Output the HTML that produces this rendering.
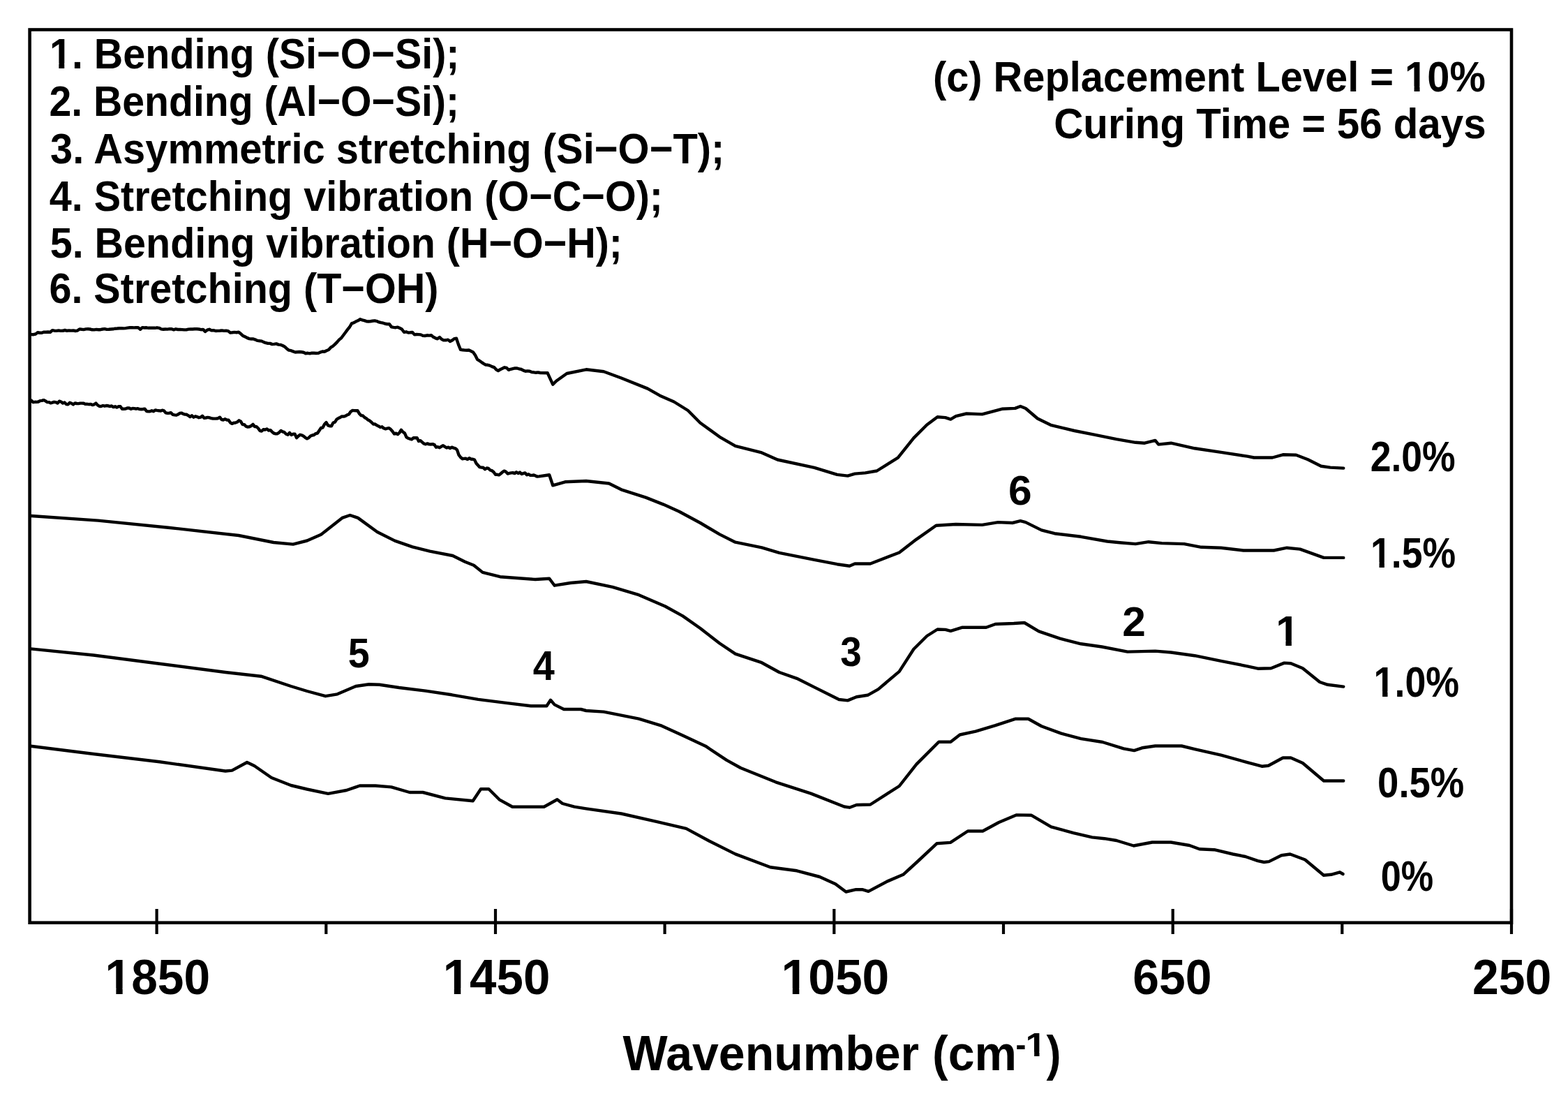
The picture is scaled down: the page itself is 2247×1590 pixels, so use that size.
<!DOCTYPE html><html><head><meta charset="utf-8"><title>FTIR spectra</title><style>html,body{margin:0;padding:0;background:#fff;overflow:hidden;}svg{display:block;}text{font-family:"Liberation Sans",Arial,sans-serif;font-weight:bold;fill:#000;}</style></head><body>
<svg width="2247" height="1590" viewBox="0 0 2247 1590">
<defs>
<clipPath id="c_L1" clipPathUnits="userSpaceOnUse"><rect x="67.94" y="40.20" width="593.55" height="50.60"/><rect x="67.94" y="99.40" width="593.55" height="14.80"/><rect x="67.94" y="90.80" width="3.56" height="8.60"/><rect x="84.35" y="90.80" width="7.89" height="8.60"/><rect x="102.90" y="90.80" width="558.59" height="8.60"/></clipPath>
<clipPath id="c_R1" clipPathUnits="userSpaceOnUse"><rect x="1333.92" y="73.20" width="797.87" height="50.60"/><rect x="1333.92" y="132.40" width="797.87" height="14.80"/><rect x="1333.92" y="123.80" width="679.74" height="8.60"/><rect x="2026.59" y="123.80" width="7.93" height="8.60"/><rect x="2045.25" y="123.80" width="86.54" height="8.60"/></clipPath>
<clipPath id="c_p15" clipPathUnits="userSpaceOnUse"><rect x="1961.02" y="754.90" width="128.12" height="50.57"/><rect x="1961.02" y="814.10" width="128.12" height="14.80"/><rect x="1961.02" y="805.47" width="3.52" height="8.63"/><rect x="1976.53" y="805.47" width="7.35" height="8.63"/><rect x="1993.83" y="805.47" width="95.31" height="8.63"/></clipPath>
<clipPath id="c_p10" clipPathUnits="userSpaceOnUse"><rect x="1965.57" y="939.70" width="128.55" height="50.57"/><rect x="1965.57" y="998.90" width="128.55" height="14.80"/><rect x="1965.57" y="990.27" width="3.53" height="8.63"/><rect x="1981.12" y="990.27" width="7.38" height="8.63"/><rect x="1998.48" y="990.27" width="95.64" height="8.63"/></clipPath>
<clipPath id="c_n1" clipPathUnits="userSpaceOnUse"><rect x="1825.23" y="866.70" width="39.94" height="50.57"/><rect x="1825.23" y="925.90" width="39.94" height="14.80"/><rect x="1825.23" y="917.27" width="3.60" height="8.63"/><rect x="1842.47" y="917.27" width="8.37" height="8.63"/><rect x="1862.17" y="917.27" width="3.00" height="8.63"/></clipPath>
<clipPath id="c_t1850" clipPathUnits="userSpaceOnUse"><rect x="147.60" y="1357.10" width="156.49" height="58.61"/><rect x="147.60" y="1425.30" width="156.49" height="16.80"/><rect x="147.60" y="1415.71" width="3.66" height="9.59"/><rect x="166.39" y="1415.71" width="9.28" height="9.59"/><rect x="188.23" y="1415.71" width="115.86" height="9.59"/></clipPath>
<clipPath id="c_t1450" clipPathUnits="userSpaceOnUse"><rect x="631.68" y="1357.10" width="159.66" height="58.61"/><rect x="631.68" y="1425.30" width="159.66" height="16.80"/><rect x="631.68" y="1415.71" width="3.67" height="9.59"/><rect x="650.80" y="1415.71" width="9.48" height="9.59"/><rect x="673.10" y="1415.71" width="118.24" height="9.59"/></clipPath>
<clipPath id="c_t1050" clipPathUnits="userSpaceOnUse"><rect x="1116.53" y="1357.10" width="160.81" height="58.61"/><rect x="1116.53" y="1425.30" width="160.81" height="16.80"/><rect x="1116.53" y="1415.71" width="3.68" height="9.59"/><rect x="1135.78" y="1415.71" width="9.55" height="9.59"/><rect x="1158.24" y="1415.71" width="119.10" height="9.59"/></clipPath>
<clipPath id="c_t1" clipPathUnits="userSpaceOnUse"><rect x="1466.64" y="1466.90" width="35.81" height="39.92"/><rect x="1466.64" y="1514.10" width="35.81" height="11.80"/><rect x="1466.64" y="1506.82" width="3.52" height="7.28"/><rect x="1482.15" y="1506.82" width="7.35" height="7.28"/><rect x="1499.45" y="1506.82" width="3.00" height="7.28"/></clipPath>
</defs>

<rect width="2247" height="1590" fill="#fff"/>
<g>
<rect x="42.6" y="42.5" width="2123.4" height="1279.2" fill="none" stroke="#000" stroke-width="4.6"/>
<path d="M224.6 1302.1V1337.9M710.0 1302.1V1337.9M1195.3 1302.1V1337.9M1680.7 1302.1V1337.9M2166.0 1302.1V1337.9M467.3 1321.7V1337.9M952.6 1321.7V1337.9M1438.0 1321.7V1337.9M1923.3 1321.7V1337.9" stroke="#000" stroke-width="4.2" fill="none"/>
<path d="M44.5 478.9L45.0 479.0L48.0 479.2L51.0 478.5L54.0 476.3L57.0 476.7L60.0 476.7L63.0 475.6L66.0 475.7L69.0 475.5L72.0 475.9L75.0 473.2L78.0 473.7L81.0 473.9L84.0 473.4L87.0 473.9L90.0 473.8L93.0 473.0L96.0 473.8L99.0 473.4L102.0 473.6L105.0 473.4L108.0 474.0L111.0 473.6L114.0 471.4L117.0 471.8L120.0 472.1L123.0 471.4L126.0 471.3L129.0 471.5L132.0 472.3L135.0 472.4L138.0 471.9L141.0 472.3L144.0 472.2L147.0 471.5L150.0 471.1L153.0 471.9L156.0 471.8L159.0 471.5L162.0 471.3L165.0 470.7L168.0 470.5L171.0 470.2L174.0 470.2L177.0 470.4L180.0 470.1L183.0 469.6L186.0 469.2L189.0 469.2L192.0 469.4L195.0 469.1L198.0 469.2L201.0 471.8L204.0 469.1L207.0 469.5L210.0 469.3L213.0 469.8L216.0 469.8L219.0 469.8L222.0 469.8L225.0 469.3L228.0 469.8L231.0 471.4L234.0 471.8L237.0 471.5L240.0 471.6L243.0 471.1L246.0 471.3L249.0 472.4L252.0 471.3L255.0 472.0L258.0 471.9L261.0 472.1L264.0 472.4L267.0 472.4L270.0 471.6L273.0 471.4L276.0 471.5L279.0 471.3L282.0 471.3L285.0 471.5L288.0 472.2L291.0 471.9L294.0 474.9L297.0 472.7L300.0 471.8L303.0 473.4L306.0 473.1L309.0 474.0L312.0 473.9L315.0 473.7L318.0 473.4L321.0 473.9L324.0 473.8L327.0 474.1L330.0 476.6L333.0 476.3L336.0 475.9L339.0 476.2L342.0 475.8L345.0 478.1L348.0 480.9L351.0 482.3L354.0 483.9L357.0 485.1L360.0 485.5L363.0 485.5L366.0 486.6L369.0 487.9L372.0 488.3L375.0 488.6L378.0 490.1L381.0 491.2L384.0 491.9L387.0 491.9L390.0 493.1L393.0 492.9L396.0 492.4L399.0 493.6L402.0 493.9L405.0 495.0L408.0 496.7L411.0 499.4L414.0 501.7L417.0 502.2L420.0 503.4L423.0 504.5L426.0 504.2L429.0 504.0L432.0 504.3L435.0 504.7L438.0 506.2L441.0 505.8L444.0 506.4L447.0 505.6L450.0 505.7L453.0 506.0L456.0 505.9L459.0 504.6L462.0 503.5L465.0 503.8L468.0 502.2L471.0 501.0L474.0 497.7L477.0 495.8L480.0 493.1L483.0 490.1L486.0 486.6L489.0 484.2L492.0 480.2L495.0 476.2L498.0 472.1L501.0 468.5L504.0 463.4L507.0 462.2L510.0 460.6L513.0 459.3L516.0 457.3L519.0 458.4L522.0 459.2L525.0 460.2L528.0 460.5L531.0 460.2L534.0 459.8L537.0 459.4L540.0 460.1L543.0 461.4L546.0 462.2L549.0 462.7L552.0 463.8L555.0 464.2L558.0 464.2L561.0 468.4L564.0 468.9L567.0 469.2L570.0 468.7L573.0 470.0L576.0 471.7L579.0 475.8L582.0 475.3L585.0 476.5L588.0 476.3L591.0 476.0L594.0 479.4L597.0 479.0L600.0 479.1L603.0 479.4L606.0 480.9L609.0 481.0L612.0 480.3L615.0 480.6L618.0 480.2L621.0 482.8L624.0 484.3L627.0 485.3L630.0 483.1L633.0 486.0L636.0 487.4L639.0 487.3L642.0 486.6L645.0 489.0L648.0 487.5L651.0 485.1L654.0 484.8L657.0 493.6L660.0 500.8L663.0 501.3L666.0 501.6L669.0 501.7L672.0 501.5L675.0 503.0L678.0 504.5L681.0 508.8L684.0 514.8L687.0 516.7L690.0 518.8L693.0 520.8L696.0 522.6L699.0 522.8L702.0 523.6L705.0 525.1L708.0 526.1L711.0 529.3L714.0 531.1L717.0 529.2L720.0 527.8L723.0 526.3L726.0 527.0L729.0 529.9L732.0 528.8L735.0 528.1L738.0 527.4L741.0 527.5L744.0 528.4L747.0 529.0L750.0 530.6L753.0 531.8L756.0 531.4L759.0 531.7L762.0 533.0L765.0 533.3L768.0 533.8L771.0 533.4L774.0 534.0L784.7 534.3L792.2 550.7L797.2 545.7L812.3 535.0L840.0 529.3L865.2 532.2L890.3 541.5L928.0 556.6L945.7 566.7L965.8 575.5L985.9 588.0L1003.5 605.7L1031.2 625.8L1053.8 638.9L1091.6 648.4L1114.2 658.5L1167.0 669.8L1199.7 679.9L1214.8 681.6L1225.0 678.6L1240.0 677.4L1256.6 674.5L1286.8 655.7L1309.4 627.4L1328.3 608.5L1343.4 597.2L1354.7 598.1L1362.3 600.6L1369.8 596.2L1385.0 592.5L1407.5 593.4L1435.8 585.8L1454.7 584.9L1462.3 582.0L1469.8 585.0L1486.8 599.5L1505.7 608.8L1539.6 617.0L1568.0 622.6L1600.0 629.2L1627.2 633.8L1640.4 634.7L1655.5 630.9L1660.2 636.6L1678.1 634.7L1712.1 642.3L1749.8 647.9L1787.5 653.6L1797.0 655.5L1823.4 655.5L1838.5 651.3L1857.4 651.7L1874.3 658.3L1893.2 667.7L1906.4 669.6L1925.3 670.6" stroke="#000" stroke-width="4.4" fill="none" stroke-linejoin="round" stroke-linecap="round"/>
<path d="M44.4 574.5L45.0 573.7L47.5 576.2L50.0 575.8L52.5 575.9L55.0 575.5L57.5 574.1L60.0 573.9L62.5 573.1L65.0 574.2L67.5 576.1L70.0 576.1L72.5 577.3L75.0 576.6L77.5 575.8L80.0 576.2L82.5 577.6L85.0 574.7L87.5 575.5L90.0 577.5L92.5 576.4L95.0 579.0L97.5 579.3L100.0 576.8L102.5 577.7L105.0 579.4L107.5 577.4L110.0 578.0L112.5 578.1L115.0 577.6L117.5 577.6L120.0 577.8L122.5 578.9L125.0 578.8L127.5 579.2L130.0 578.9L132.5 580.1L135.0 579.3L137.5 577.6L140.0 580.4L142.5 582.0L145.0 582.0L147.5 581.0L150.0 581.7L152.5 581.0L155.0 581.3L157.5 582.1L160.0 581.5L162.5 583.1L165.0 582.2L167.5 583.5L170.0 582.3L172.5 582.2L175.0 585.7L177.5 585.7L180.0 585.6L182.5 584.4L185.0 584.5L187.5 585.8L190.0 585.0L192.5 585.1L195.0 585.7L197.5 585.2L200.0 586.1L202.5 586.2L205.0 586.0L207.5 585.7L210.0 589.0L212.5 589.4L215.0 589.3L217.5 588.3L220.0 589.3L222.5 587.4L225.0 587.9L227.5 588.2L230.0 588.6L232.5 587.7L235.0 588.4L237.5 591.4L240.0 591.9L242.5 591.7L245.0 591.2L247.5 593.8L250.0 594.3L252.5 594.7L255.0 593.8L257.5 591.9L260.0 591.6L262.5 592.8L265.0 593.6L267.5 593.8L270.0 595.3L272.5 597.1L275.0 595.2L277.5 597.7L280.0 596.3L282.5 597.1L285.0 598.2L287.5 597.7L290.0 595.8L292.5 598.7L295.0 598.5L297.5 597.9L300.0 598.2L302.5 599.1L305.0 599.5L307.5 599.6L310.0 599.5L312.5 599.2L315.0 597.7L317.5 601.0L320.0 601.5L322.5 600.3L325.0 601.5L327.5 601.8L330.0 605.3L332.5 606.9L335.0 605.7L337.5 605.5L340.0 604.5L342.5 602.3L345.0 603.7L347.5 608.0L350.0 608.1L352.5 610.7L355.0 611.6L357.5 611.3L360.0 610.0L362.5 607.9L365.0 611.0L367.5 611.2L370.0 613.5L372.5 617.1L375.0 617.5L377.5 615.2L380.0 615.5L382.5 614.4L385.0 616.6L387.5 616.1L390.0 618.8L392.5 620.6L395.0 621.4L397.5 621.2L400.0 619.6L402.5 616.9L405.0 618.4L407.5 619.2L410.0 621.7L412.5 622.7L415.0 619.9L417.5 622.9L420.0 621.8L422.5 621.7L425.0 627.2L427.5 624.7L430.0 622.8L432.5 623.4L435.0 624.7L437.5 626.9L440.0 628.4L442.5 627.1L445.0 624.5L447.5 623.5L450.0 623.0L452.5 621.1L455.0 620.5L457.5 616.7L460.0 613.0L462.5 612.6L465.0 607.7L467.5 605.1L470.0 609.4L472.5 610.2L475.0 610.3L477.5 605.5L480.0 604.6L482.5 600.6L485.0 599.1L487.5 597.9L490.0 596.4L492.5 596.6L495.0 595.8L497.5 594.3L500.0 593.5L502.5 589.8L505.0 588.0L507.5 588.1L510.0 588.2L512.5 588.3L515.0 592.7L517.5 595.1L520.0 595.5L522.5 598.0L525.0 599.4L527.5 601.6L530.0 602.8L532.5 605.0L535.0 607.5L537.5 607.4L540.0 609.3L542.5 610.4L545.0 612.0L547.5 611.3L550.0 613.5L552.5 614.3L555.0 613.7L557.5 613.2L560.0 615.1L562.5 618.0L565.0 621.5L567.5 620.7L570.0 622.2L572.5 619.7L575.0 615.8L577.5 618.8L580.0 620.6L582.5 626.4L585.0 627.8L587.5 628.7L590.0 629.4L592.5 627.3L595.0 627.2L597.5 627.1L600.0 632.0L602.5 631.2L605.0 633.4L607.5 635.5L610.0 636.3L612.5 635.4L615.0 636.4L617.5 636.5L620.0 636.1L622.5 637.1L625.0 640.7L627.5 640.2L630.0 641.2L632.5 639.5L635.0 638.2L637.5 639.9L640.0 641.5L642.5 640.6L645.0 642.0L647.5 640.6L650.0 641.7L652.5 642.3L655.0 644.4L657.5 651.7L660.0 655.0L662.5 657.2L665.0 656.9L667.5 656.8L670.0 658.1L672.5 656.2L675.0 657.7L677.5 657.7L680.0 658.6L682.5 663.7L685.0 666.5L687.5 669.2L690.0 669.6L692.5 669.8L695.0 672.2L697.5 670.5L700.0 671.0L702.5 673.5L705.0 674.2L707.5 676.3L710.0 679.7L712.5 679.8L715.0 680.4L717.5 678.5L720.0 676.3L722.5 674.6L725.0 675.7L727.5 678.5L730.0 677.9L732.5 677.4L735.0 677.1L737.5 678.1L740.0 676.3L742.5 678.0L745.0 676.6L747.5 679.0L750.0 678.2L752.5 677.4L755.0 680.3L757.5 679.3L760.0 680.8L762.5 680.9L765.0 680.5L767.5 681.6L770.0 682.6L772.5 682.4L787.2 680.2L792.2 695.3L809.8 690.3L840.0 689.0L872.7 692.5L890.3 701.3L925.5 712.6L950.7 722.6L973.3 732.7L1003.5 749.0L1031.2 765.4L1053.8 776.7L1091.6 784.3L1116.7 791.8L1167.0 801.9L1199.7 808.2L1217.4 810.7L1225.0 807.4L1247.2 807.5L1288.7 791.5L1313.2 772.6L1341.5 752.8L1369.8 751.0L1407.5 751.9L1430.2 748.1L1451.0 749.0L1462.3 746.2L1469.8 748.1L1492.5 759.4L1511.3 764.2L1549.0 768.8L1586.8 775.5L1604.5 777.2L1627.2 779.1L1646.0 776.2L1664.9 778.1L1697.0 779.1L1721.5 783.8L1749.8 784.7L1781.9 788.5L1825.3 788.5L1844.2 784.7L1863.0 786.6L1897.0 798.9L1925.3 798.9" stroke="#000" stroke-width="4.4" fill="none" stroke-linejoin="round" stroke-linecap="round"/>
<path d="M45.0 739.0L140.6 745.6L241.0 755.7L342.0 767.0L392.0 777.0L420.0 779.6L440.0 774.5L460.0 765.8L490.3 741.9L501.6 738.0L513.0 741.9L540.6 762.0L565.8 774.6L591.0 783.4L616.0 789.7L648.8 796.0L666.4 804.8L679.0 809.8L691.6 819.9L716.7 826.2L767.0 830.0L787.2 828.7L794.7 838.7L817.4 835.0L840.0 833.0L877.7 840.9L915.5 852.2L953.2 868.5L978.4 882.4L1003.5 900.0L1031.2 921.5L1053.8 936.6L1091.6 949.2L1116.7 963.0L1141.9 971.8L1167.0 984.4L1202.3 1002.0L1214.8 1003.4L1227.4 998.2L1243.4 995.8L1258.5 987.4L1288.7 961.9L1309.4 929.8L1328.3 911.0L1343.4 901.5L1354.7 901.9L1362.3 903.8L1379.2 898.7L1413.2 898.7L1426.4 894.0L1452.8 893.0L1468.0 892.0L1488.7 904.3L1518.9 914.7L1549.0 922.3L1579.0 926.5L1615.8 933.6L1655.5 932.6L1678.1 934.5L1712.1 939.2L1749.8 946.8L1787.5 954.3L1802.6 957.7L1821.5 957.2L1840.4 949.6L1849.8 950.2L1866.8 957.2L1891.3 977.0L1902.6 980.8L1925.3 983.6" stroke="#000" stroke-width="4.4" fill="none" stroke-linejoin="round" stroke-linecap="round"/>
<path d="M44.0 929.4L134.0 938.5L228.7 950.8L323.0 963.0L374.0 968.7L417.0 983.0L440.0 990.0L466.4 997.2L483.4 994.3L509.8 983.0L528.7 980.2L543.8 980.8L572.0 985.0L609.8 989.6L647.5 995.3L685.3 1001.9L723.0 1006.6L760.8 1011.3L783.4 1011.3L789.0 1002.8L794.7 1009.4L808.0 1016.0L832.5 1016.0L840.0 1018.0L865.2 1019.6L915.5 1029.7L948.2 1039.7L978.4 1053.6L1011.0 1068.7L1041.3 1088.8L1061.4 1100.0L1111.7 1120.3L1162.0 1136.6L1209.8 1155.5L1217.4 1156.7L1227.4 1153.0L1247.2 1152.5L1288.7 1126.0L1313.2 1094.9L1345.3 1062.8L1362.3 1062.8L1375.5 1052.5L1398.1 1047.7L1426.4 1039.2L1454.7 1029.8L1473.6 1029.8L1492.5 1040.2L1520.8 1050.6L1549.0 1058.1L1580.0 1063.0L1610.2 1072.3L1625.3 1075.1L1636.6 1071.3L1655.5 1068.5L1693.2 1068.5L1712.1 1073.2L1749.8 1081.7L1787.5 1092.1L1808.3 1097.7L1817.7 1096.8L1838.5 1085.5L1849.8 1085.5L1866.8 1093.0L1897.0 1118.5L1925.3 1118.5" stroke="#000" stroke-width="4.4" fill="none" stroke-linejoin="round" stroke-linecap="round"/>
<path d="M44.0 1068.7L134.0 1080.0L228.7 1091.3L323.0 1104.5L332.5 1103.6L354.0 1092.0L364.5 1097.0L389.0 1114.0L417.0 1125.0L440.0 1130.5L470.2 1136.8L496.6 1132.0L515.5 1125.5L538.0 1125.5L560.8 1127.4L587.0 1135.0L606.0 1135.0L638.0 1143.4L677.7 1147.2L689.0 1130.2L700.4 1130.2L715.5 1145.3L734.3 1155.7L779.6 1155.7L798.5 1145.3L806.0 1151.0L823.0 1155.7L840.0 1158.3L890.3 1165.5L940.6 1176.9L983.4 1186.9L1016.0 1204.5L1053.8 1223.4L1104.0 1242.3L1141.9 1247.3L1174.6 1256.0L1197.2 1266.2L1212.3 1277.5L1226.7 1274.2L1235.6 1274.2L1244.5 1276.9L1271.2 1262.6L1294.3 1252.8L1313.9 1235.0L1342.4 1208.3L1362.0 1206.9L1386.9 1190.5L1408.3 1190.5L1431.4 1178.0L1456.3 1167.4L1477.7 1167.7L1506.2 1184.3L1538.2 1193.2L1565.0 1199.4L1582.7 1201.2L1600.0 1204.0L1624.5 1211.5L1651.2 1206.5L1677.9 1206.5L1704.6 1211.0L1718.9 1216.3L1740.2 1217.2L1766.9 1223.5L1784.7 1227.0L1802.5 1233.2L1811.4 1235.0L1818.5 1234.1L1836.3 1225.2L1848.8 1223.5L1870.2 1231.5L1896.9 1253.7L1907.5 1252.8L1920.0 1249.3L1924.5 1252.0" stroke="#000" stroke-width="4.4" fill="none" stroke-linejoin="round" stroke-linecap="round"/>
<text id="L1" x="70.94" y="98.20" font-size="60.80" textLength="587.55" lengthAdjust="spacingAndGlyphs" clip-path="url(#c_L1)">1. Bending (Si−O−Si);</text>
<text id="L2" x="70.52" y="166.10" font-size="60.80" textLength="587.46" lengthAdjust="spacingAndGlyphs">2. Bending (Al−O−Si);</text>
<text id="L3" x="71.95" y="233.50" font-size="60.80" textLength="966.46" lengthAdjust="spacingAndGlyphs">3. Asymmetric stretching (Si−O−T);</text>
<text id="L4" x="70.70" y="301.50" font-size="60.80" textLength="879.35" lengthAdjust="spacingAndGlyphs">4. Stretching vibration (O−C−O);</text>
<text id="L5" x="71.76" y="368.90" font-size="60.80" textLength="820.24" lengthAdjust="spacingAndGlyphs">5. Bending vibration (H−O−H);</text>
<text id="L6" x="70.39" y="434.20" font-size="60.80" textLength="558.06" lengthAdjust="spacingAndGlyphs">6. Stretching (T−OH)</text>
<text id="R1" x="1336.92" y="131.20" font-size="60.80" textLength="791.87" lengthAdjust="spacingAndGlyphs" clip-path="url(#c_R1)">(c) Replacement Level = 10%</text>
<text id="R2" x="1510.28" y="198.20" font-size="60.80" textLength="619.37" lengthAdjust="spacingAndGlyphs">Curing Time = 56 days</text>
<text id="p20" x="1963.64" y="674.80" font-size="61.00" textLength="122.02" lengthAdjust="spacingAndGlyphs">2.0%</text>
<text id="p15" x="1964.02" y="812.90" font-size="61.00" textLength="122.12" lengthAdjust="spacingAndGlyphs" clip-path="url(#c_p15)">1.5%</text>
<text id="p10" x="1968.57" y="997.70" font-size="61.00" textLength="122.55" lengthAdjust="spacingAndGlyphs" clip-path="url(#c_p10)">1.0%</text>
<text id="p05" x="1974.10" y="1141.60" font-size="61.00" textLength="124.18" lengthAdjust="spacingAndGlyphs">0.5%</text>
<text id="p0" x="1978.69" y="1275.80" font-size="61.00" textLength="75.46" lengthAdjust="spacingAndGlyphs">0%</text>
<text id="n5" x="498.84" y="956.00" font-size="60.00" textLength="30.89" lengthAdjust="spacingAndGlyphs">5</text>
<text id="n4" x="763.71" y="973.60" font-size="60.00" textLength="31.04" lengthAdjust="spacingAndGlyphs">4</text>
<text id="n3" x="1204.18" y="953.70" font-size="60.00" textLength="30.48" lengthAdjust="spacingAndGlyphs">3</text>
<text id="n6" x="1444.98" y="723.00" font-size="60.00" textLength="33.64" lengthAdjust="spacingAndGlyphs">6</text>
<text id="n2" x="1608.20" y="910.90" font-size="60.00" textLength="33.61" lengthAdjust="spacingAndGlyphs">2</text>
<text id="n1" x="1828.23" y="924.70" font-size="61.00" clip-path="url(#c_n1)">1</text>
<text id="t1850" x="150.60" y="1424.10" font-size="70.50" textLength="150.49" lengthAdjust="spacingAndGlyphs" clip-path="url(#c_t1850)">1850</text>
<text id="t1450" x="634.68" y="1424.10" font-size="70.50" textLength="153.66" lengthAdjust="spacingAndGlyphs" clip-path="url(#c_t1450)">1450</text>
<text id="t1050" x="1119.53" y="1424.10" font-size="70.50" textLength="154.81" lengthAdjust="spacingAndGlyphs" clip-path="url(#c_t1050)">1050</text>
<text id="t650" x="1623.35" y="1424.10" font-size="70.50" textLength="113.19" lengthAdjust="spacingAndGlyphs">650</text>
<text id="t250" x="2110.08" y="1424.10" font-size="70.50" textLength="113.22" lengthAdjust="spacingAndGlyphs">250</text>
<text id="ti" x="892.51" y="1533.40" font-size="70.30" textLength="564.45" lengthAdjust="spacingAndGlyphs">Wavenumber (cm</text>
<text id="tm" x="1455.54" y="1512.90" font-size="47.80" textLength="14.86" lengthAdjust="spacingAndGlyphs">-</text>
<text id="t1" x="1469.64" y="1512.90" font-size="47.80" textLength="29.81" lengthAdjust="spacingAndGlyphs" clip-path="url(#c_t1)">1</text>
<text id="tp" x="1499.44" y="1533.40" font-size="70.30" textLength="21.01" lengthAdjust="spacingAndGlyphs">)</text>
</g>
</svg></body></html>
